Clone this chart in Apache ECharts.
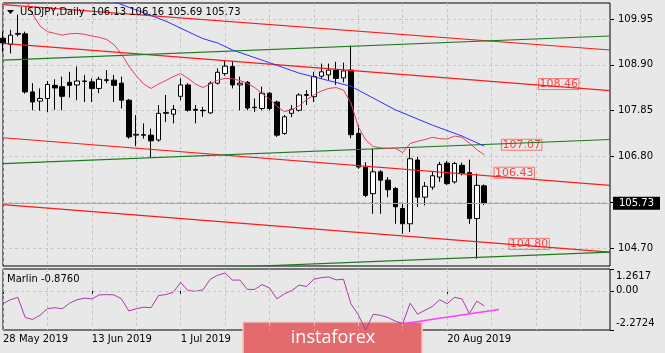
<!DOCTYPE html>
<html>
<head>
    <meta charset="UTF-8">
    <title>USDJPY Daily</title>
    <script src="https://cdn.jsdelivr.net/npm/echarts@6/dist/echarts.min.js"></script>
    <style>
        html, body { margin: 0; padding: 0; background: #e8e8e8; }
        #chart { width: 665px; height: 353px; }
    </style>
</head>
<body>
<div id="chart"></div>
<script>
    // 日期（类目），后面留空的位置是图表右侧的空白区
    var dates = ['28 May 2019','29 May 2019','30 May 2019','31 May 2019','3 Jun 2019','4 Jun 2019','5 Jun 2019','6 Jun 2019','7 Jun 2019',
        '10 Jun 2019','11 Jun 2019','12 Jun 2019','13 Jun 2019','14 Jun 2019','17 Jun 2019','18 Jun 2019','19 Jun 2019','20 Jun 2019',
        '21 Jun 2019','24 Jun 2019','25 Jun 2019','26 Jun 2019','27 Jun 2019','28 Jun 2019','1 Jul 2019','2 Jul 2019','3 Jul 2019',
        '4 Jul 2019','5 Jul 2019','8 Jul 2019','9 Jul 2019','10 Jul 2019','11 Jul 2019','12 Jul 2019','15 Jul 2019','16 Jul 2019',
        '17 Jul 2019','18 Jul 2019','19 Jul 2019','22 Jul 2019','23 Jul 2019','24 Jul 2019','25 Jul 2019','26 Jul 2019','29 Jul 2019',
        '30 Jul 2019','31 Jul 2019','1 Aug 2019','2 Aug 2019','5 Aug 2019','6 Aug 2019','7 Aug 2019','8 Aug 2019','9 Aug 2019',
        '12 Aug 2019','13 Aug 2019','14 Aug 2019','15 Aug 2019','16 Aug 2019','19 Aug 2019','20 Aug 2019','21 Aug 2019','22 Aug 2019',
        '23 Aug 2019','26 Aug 2019','27 Aug 2019'];
    var totalSlots = 83;
    var dateLabelIdx = [0, 12, 24, 60];

    var opens  = [109.51,109.37,109.60,109.61,108.28,108.07,108.13,108.43,108.40,108.50,108.44,108.52,108.51,108.36,108.54,108.55,108.48,108.09,
        107.29,107.30,107.29,107.18,107.79,107.77,108.18,108.44,107.88,107.86,107.80,108.48,108.70,108.86,108.44,108.50,107.93,107.90,
        108.25,108.05,107.33,107.79,107.86,108.20,108.17,108.64,108.67,108.78,108.60,108.78,107.33,106.56,105.95,106.45,106.26,106.07,
        105.61,105.26,106.72,105.87,106.10,106.33,106.65,106.22,106.60,106.43,105.38,106.13];
    var highs  = [109.66,109.70,110.05,109.66,108.48,108.36,108.53,108.57,108.63,108.74,108.86,108.67,108.59,108.63,108.78,108.67,108.63,108.12,
        107.75,107.56,107.44,107.98,108.21,107.98,108.59,108.48,107.98,107.94,108.52,108.82,109.01,108.99,108.63,108.53,108.13,108.40,
        108.28,108.08,107.75,107.98,108.25,108.32,108.74,108.93,108.93,108.97,108.95,109.34,107.52,106.67,106.98,106.49,106.33,106.10,
        105.72,106.98,106.79,106.22,106.45,106.68,106.70,106.68,106.66,106.73,106.41,106.16];
    var lows   = [109.20,109.16,109.55,108.24,107.86,107.85,107.82,107.87,107.86,108.15,108.09,108.05,108.05,108.25,108.48,108.05,107.90,107.21,
        107.04,107.21,106.77,107.14,107.59,107.56,108.09,107.83,107.56,107.71,107.78,108.45,108.65,108.36,107.86,107.86,107.82,107.86,
        107.86,107.25,107.30,107.70,107.83,107.98,108.05,108.59,108.55,108.44,108.50,107.22,106.52,105.87,105.49,105.49,105.87,105.26,
        105.03,105.07,105.65,105.68,106.04,106.22,106.15,106.18,106.37,105.26,104.46,105.69];
    var closes = [109.40,109.58,109.62,108.28,108.05,108.13,108.45,108.37,108.18,108.43,108.53,108.53,108.36,108.57,108.56,108.43,108.09,107.25,
        107.31,107.29,107.16,107.79,107.81,107.88,108.44,107.86,107.86,107.85,108.48,108.73,108.87,108.44,108.48,107.91,107.92,108.25,
        107.90,107.29,107.71,107.88,108.21,108.22,108.63,108.74,108.78,108.59,108.76,107.30,106.56,105.91,106.45,106.26,106.04,105.65,
        105.26,106.75,105.87,106.12,106.36,106.62,106.18,106.64,106.41,105.38,106.14,105.73];
    var lastPrice = 105.73;

    // 快速均线（粉红），从第 3 根K线开始
    var fastMa = [null,null,null,110.43,110.06,109.79,109.66,109.62,109.58,109.61,109.62,109.60,109.56,109.53,109.48,109.36,109.15,108.87,
        108.65,108.46,108.36,108.46,108.54,108.63,108.70,108.59,108.46,108.38,108.46,108.55,108.59,108.58,108.54,108.48,108.38,108.24,
        108.12,107.95,107.83,107.87,107.96,108.10,108.21,108.30,108.36,108.38,108.32,108.03,107.48,107.18,107.03,107.00,106.99,106.99,
        106.89,107.10,107.15,107.19,107.24,107.21,107.20,107.27,107.24,107.11,106.96,106.84];
    // 慢速均线（蓝色），读图得到的点 [K线序号, 价格]
    var slowMa = [[13,110.48],[14,110.41],[22,109.90],[27,109.50],[29,109.40],[31,109.24],[36,108.95],[40,108.71],
        [47,108.41],[53,107.87],[58,107.52],[62,107.27],[65,107.04]];

    // 通道线：首尾两个类目处的价格
    var lineEnds = [0, 82];
    var redLines = [[110.28,109.24],[109.39,108.31],[107.23,106.14],[105.70,104.61]];
    var greenLines = [[109.01,109.56],[106.64,107.19],[104.06,104.61]];
    var levelLabels = [[72,108.46],[67,107.07],[66,106.43],[68,104.80]];

    var priceGrid = [104.70, 105.75, 106.80, 107.85, 108.90, 109.95];
    var priceLabels = [104.70, 106.80, 107.85, 108.90, 109.95];

    // Marlin 指标
    var marlin = [-0.74,-0.52,-0.38,-1.55,-1.66,-1.42,-1.04,-0.98,-1.04,-0.72,-0.52,-0.43,-0.47,-0.24,-0.22,-0.24,-0.47,-1.17,
        -1.04,-0.95,-0.98,-0.28,-0.22,-0.09,0.48,0.01,-0.03,0.05,0.67,0.90,1.03,0.62,0.62,0.08,0.08,0.36,
        0.16,-0.47,-0.18,0.01,0.33,0.25,0.67,0.76,0.80,0.63,0.67,-0.75,-1.40,-2.27,-1.36,-1.42,-1.55,-1.76,
        -1.90,-0.72,-1.36,-1.13,-0.91,-0.52,-0.75,-0.38,-0.47,-1.32,-0.60,-0.876];
    var marlinMax = 1.2617, marlinMin = -2.2724;
    var divergence = [[54,-1.904],[67,-1.078]];

    var FONT = 'DejaVu Sans';
    var cats = [];
    for (var i = 0; i < totalSlots; i++) cats.push(i < dates.length ? dates[i] : '');

    var ohlc = [];
    for (var i = 0; i < opens.length; i++) ohlc.push([opens[i], closes[i], lows[i], highs[i]]);

    var gridLine = { color: '#c4c4c4', type: [3, 3], width: 1 };

    var series = [{
        type: 'candlestick',
        xAxisIndex: 0, yAxisIndex: 0,
        data: ohlc,
        barWidth: 5,
        itemStyle: { color: '#ffffff', color0: '#000000', borderColor: '#000000', borderColor0: '#000000', borderWidth: 1 },
        markLine: {
            silent: true, symbol: 'none',
            lineStyle: { color: '#a8a8a8', type: 'solid', width: 1 },
            label: {
                position: 'end', distance: 3, formatter: lastPrice.toFixed(2),
                backgroundColor: '#000', color: '#fff', padding: [2, 6, 1, 6],
                fontFamily: FONT, fontSize: 10
            },
            data: [{ yAxis: lastPrice }]
        }
    }];

    redLines.forEach(function (l) {
        series.push({
            type: 'line', xAxisIndex: 0, yAxisIndex: 0, silent: true, showSymbol: false,
            data: [[lineEnds[0], l[0]], [lineEnds[1], l[1]]],
            lineStyle: { color: '#ff1a1a', width: 1.2 }
        });
    });
    greenLines.forEach(function (l) {
        series.push({
            type: 'line', xAxisIndex: 0, yAxisIndex: 0, silent: true, showSymbol: false,
            data: [[lineEnds[0], l[0]], [lineEnds[1], l[1]]],
            lineStyle: { color: '#1f7a1f', width: 1.2 }
        });
    });

    series.push({
        type: 'line', xAxisIndex: 0, yAxisIndex: 0, silent: true, showSymbol: false,
        data: slowMa, lineStyle: { color: '#3030ff', width: 1 }
    });
    series.push({
        type: 'line', xAxisIndex: 0, yAxisIndex: 0, silent: true, showSymbol: false,
        data: fastMa, lineStyle: { color: '#e2405c', width: 1 }
    });
    series.push({
        type: 'scatter', xAxisIndex: 0, yAxisIndex: 0, silent: true,
        symbolSize: 1, itemStyle: { color: 'rgba(0,0,0,0)' },
        data: levelLabels,
        label: {
            show: true, position: 'right', distance: 2,
            formatter: function (p) { return p.value[1].toFixed(2); },
            color: '#ff1a1a', fontFamily: FONT, fontSize: 11,
            borderColor: '#ff5555', borderWidth: 1, padding: [0, 1, 0, 1]
        }
    });

    series.push({
        type: 'line', xAxisIndex: 1, yAxisIndex: 1, silent: true, showSymbol: false,
        data: marlin, lineStyle: { color: '#a83ca8', width: 1 },
        markLine: {
            silent: true, symbol: 'none', label: { show: false },
            lineStyle: gridLine, data: [{ yAxis: 0 }]
        }
    });
    series.push({
        type: 'line', xAxisIndex: 1, yAxisIndex: 1, silent: true, showSymbol: false,
        data: divergence, lineStyle: { color: '#ff40ff', width: 1.5 }
    });

    var chart = echarts.init(document.getElementById('chart'));
    chart.setOption({
        animation: false,
        backgroundColor: '#e8e8e8',
        title: [{
            text: 'USDJPY,Daily  106.13 106.16 105.69 105.73',
            left: 20, top: 7, padding: 0,
            textStyle: { fontFamily: FONT, fontSize: 10, fontWeight: 'normal', color: '#000' }
        }, {
            text: 'Marlin -0.8760',
            left: 7, top: 274, padding: 0,
            textStyle: { fontFamily: FONT, fontSize: 10, fontWeight: 'normal', color: '#000' }
        }],
        grid: [
            { left: 3, right: 55, top: 3, height: 263, show: true, borderColor: '#000', borderWidth: 1, backgroundColor: 'transparent' },
            { left: 3, right: 55, top: 269, height: 61, show: true, borderColor: '#000', borderWidth: 1, backgroundColor: 'transparent' }
        ],
        xAxis: [{
            type: 'category', gridIndex: 0, data: cats, boundaryGap: false,
            axisLine: { show: false }, axisTick: { show: false }, axisLabel: { show: false },
            splitLine: { show: true, interval: function (i) { return i % 6 === 0; }, lineStyle: gridLine }
        }, {
            type: 'category', gridIndex: 1, data: cats, boundaryGap: false,
            axisLine: { show: false },
            axisTick: { show: true, length: 3, interval: function (i) { return dateLabelIdx.indexOf(i) >= 0; }, lineStyle: { color: '#000' } },
            axisLabel: {
                show: true, interval: function (i) { return dateLabelIdx.indexOf(i) >= 0; },
                align: 'left', margin: 4, fontFamily: FONT, fontSize: 10, color: '#000'
            },
            splitLine: { show: true, interval: function (i) { return i % 6 === 0; }, lineStyle: gridLine }
        }],
        yAxis: [{
            type: 'value', gridIndex: 0, position: 'right', min: 104.294, max: 110.316,
            axisLine: { show: false },
            axisTick: { show: true, length: 4, customValues: priceGrid, lineStyle: { color: '#000' } },
            axisLabel: {
                customValues: priceLabels, formatter: function (v) { return v.toFixed(2); },
                margin: 8, fontFamily: FONT, fontSize: 10, color: '#000'
            },
            splitLine: { show: true, lineStyle: gridLine }
        }, {
            type: 'value', gridIndex: 1, position: 'right', min: marlinMin, max: marlinMax,
            axisLine: { show: false },
            axisTick: { show: true, length: 4, customValues: [marlinMin, 0, marlinMax], lineStyle: { color: '#000' } },
            axisLabel: {
                customValues: [marlinMin, 0, marlinMax], margin: 6, fontFamily: FONT, fontSize: 10, color: '#000',
                formatter: function (v) {
                    if (v > 1) return '{t|' + marlinMax.toFixed(4) + '}';
                    if (v < -2) return '{b|' + marlinMin.toFixed(4) + '}';
                    return '0.00';
                },
                rich: {
                    t: { fontFamily: FONT, fontSize: 10, color: '#000', padding: [15, 0, 0, 0] },
                    b: { fontFamily: FONT, fontSize: 10, color: '#000', padding: [0, 0, 14, 0] }
                }
            },
            splitLine: { show: false }
        }],
        graphic: [{
            type: 'polygon', z: 50,
            shape: { points: [[7, 10], [14, 10], [10.5, 14]] },
            style: { fill: '#000' }
        }, {
            type: 'group', z: 100,
            children: [{
                type: 'rect', shape: { x: 243, y: 322, width: 179, height: 33 },
                style: { fill: '#e36b6e', stroke: '#f3c6c6', lineWidth: 1.5 }
            }, {
                type: 'text', x: 333, y: 338,
                style: { text: 'instaforex', fill: '#ffffff', font: '18px "Open Sans"', align: 'center', verticalAlign: 'middle' }
            }]
        }],
        series: series
    });
</script>
</body>
</html>
